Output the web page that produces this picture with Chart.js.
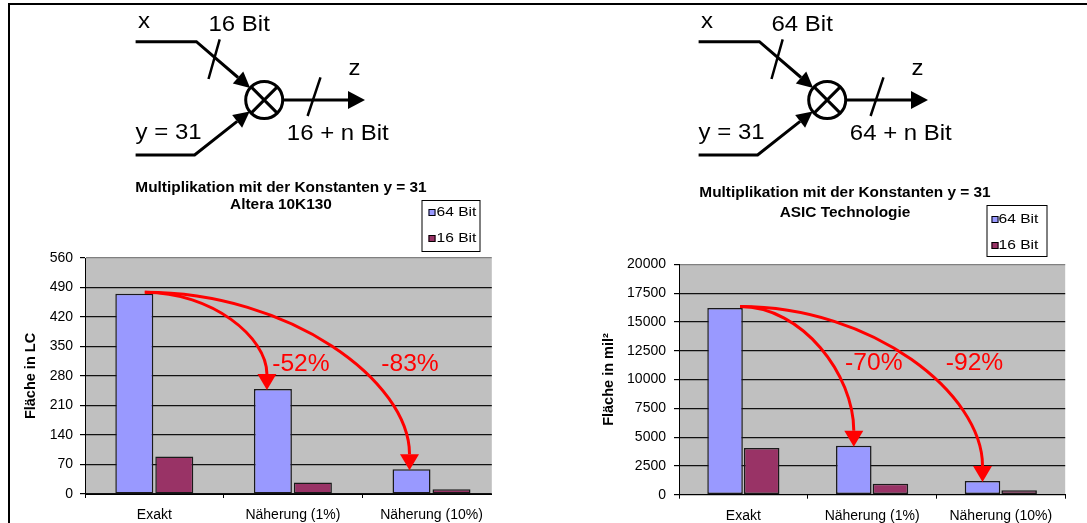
<!DOCTYPE html>
<html>
<head>
<meta charset="utf-8">
<script src="https://cdn.jsdelivr.net/npm/chart.js@4.4.1/dist/chart.umd.min.js"></script>
<style>
  html, body { margin: 0; padding: 0; background: #fff; }
  #page { position: relative; width: 1087px; height: 523px; overflow: hidden; }
  .panel { position: absolute; top: 0; height: 523px; }
  #left { left: 0; width: 545px; }
  #right { left: 545px; width: 542px; }
  #frame { position: absolute; left: 8px; top: 3px; width: 1079px; height: 520px;
           border-top: 2px solid #000; border-left: 2px solid #000; box-sizing: border-box; }
</style>
</head>
<body>
<div id="page">
  <div class="panel" id="left"><canvas id="cLeft" width="545" height="523"></canvas></div>
  <div class="panel" id="right"><canvas id="cRight" width="542" height="523"></canvas></div>
  <div id="frame"></div>
</div>
<script>
// ---- data ----
const categories = ['Exakt', 'Näherung (1%)', 'Näherung (10%)'];
const seriesNames = ['64 Bit', '16 Bit'];

const alteraBits64 = [475, 249, 59];
const alteraBits16 = [89, 27, 11];
const alteraTicks = [0, 70, 140, 210, 280, 350, 420, 490, 560];
const alteraSavings = ['-52%', '-83%'];
const alteraTitle = ['Multiplikation mit der Konstanten y = 31', 'Altera 10K130'];
const alteraAxisTitle = 'Fläche in LC';
const alteraWordWidths = ['16 Bit', '16 + n Bit'];

const asicBits64 = [16200, 4250, 1200];
const asicBits16 = [4050, 950, 380];
const asicTicks = [0, 2500, 5000, 7500, 10000, 12500, 15000, 17500, 20000];
const asicSavings = ['-70%', '-92%'];
const asicTitle = ['Multiplikation mit der Konstanten y = 31', 'ASIC Technologie'];
const asicAxisTitle = 'Fläche in mil²';
const asicWordWidths = ['64 Bit', '64 + n Bit'];

const diagramInputs = ['x', 'y = 31', 'z'];

// ---- drawing helpers ----
const FONT = "'Liberation Sans', Arial, sans-serif";
Chart.defaults.font.family = FONT;
Chart.defaults.color = '#000';

const COLOR_64 = '#9999FF';
const COLOR_16 = '#993366';

function wideText(ctx, text, x, y, sx, align) {
  ctx.save();
  ctx.translate(x, y);
  ctx.scale(sx, 1);
  ctx.textAlign = align;
  ctx.fillText(text, 0, 0);
  ctx.restore();
}

function arrowHead(ctx, from, tip, len, half) {
  const dx = tip.x - from.x, dy = tip.y - from.y, L = Math.hypot(dx, dy);
  const ux = dx / L, uy = dy / L;
  const bx = tip.x - ux * len, by = tip.y - uy * len;
  ctx.beginPath();
  ctx.moveTo(tip.x, tip.y);
  ctx.lineTo(bx - uy * half, by + ux * half);
  ctx.lineTo(bx + uy * half, by - ux * half);
  ctx.closePath();
  ctx.fill();
  return { x: bx, y: by };
}

// multiplier block: x and y enter the (x) node, z leaves it
function drawDiagram(ctx, ox, words) {
  ctx.save();
  ctx.translate(ox, 0);
  ctx.strokeStyle = '#000';
  ctx.fillStyle = '#000';
  ctx.lineWidth = 3;
  ctx.lineCap = 'butt';
  ctx.lineJoin = 'miter';

  const c = { x: 264.2, y: 100 }, r = 18.5;
  const onCircle = p => {
    const dx = c.x - p.x, dy = c.y - p.y, L = Math.hypot(dx, dy);
    return { x: c.x - dx / L * r, y: c.y - dy / L * r };
  };

  // x input
  const xBend = { x: 196.4, y: 41.7 };
  const xBase = arrowHead(ctx, xBend, onCircle(xBend), 16, 8);
  ctx.beginPath();
  ctx.moveTo(135.6, 41.7); ctx.lineTo(xBend.x, xBend.y); ctx.lineTo(xBase.x, xBase.y);
  ctx.stroke();

  // y input
  const yBend = { x: 194.6, y: 155 };
  const yBase = arrowHead(ctx, yBend, onCircle(yBend), 16, 8);
  ctx.beginPath();
  ctx.moveTo(135.6, 155); ctx.lineTo(yBend.x, yBend.y); ctx.lineTo(yBase.x, yBase.y);
  ctx.stroke();

  // node
  ctx.beginPath();
  ctx.arc(c.x, c.y, r, 0, Math.PI * 2);
  ctx.stroke();
  const d = r * Math.SQRT1_2;
  ctx.beginPath();
  ctx.moveTo(c.x - d, c.y - d); ctx.lineTo(c.x + d, c.y + d);
  ctx.moveTo(c.x + d, c.y - d); ctx.lineTo(c.x - d, c.y + d);
  ctx.stroke();

  // output
  const outStart = { x: c.x + r, y: c.y };
  const outBase = arrowHead(ctx, outStart, { x: 365, y: c.y }, 17, 9);
  ctx.beginPath();
  ctx.moveTo(outStart.x, outStart.y); ctx.lineTo(outBase.x, outBase.y);
  ctx.stroke();

  // bus width slashes
  ctx.lineWidth = 2.5;
  ctx.beginPath();
  ctx.moveTo(219.7, 39.3); ctx.lineTo(208.5, 79);
  ctx.moveTo(320.5, 77.3); ctx.lineTo(307.6, 116);
  ctx.stroke();

  // labels
  ctx.font = '22px ' + FONT;
  ctx.textBaseline = 'alphabetic';
  wideText(ctx, diagramInputs[0], 144, 28, 1.09, 'center');
  wideText(ctx, words[0], 208.5, 30.7, 1.09, 'left');
  wideText(ctx, diagramInputs[2], 354.5, 75, 1.09, 'center');
  wideText(ctx, diagramInputs[1], 135.6, 139.3, 1.09, 'left');
  wideText(ctx, words[1], 286.8, 140, 1.09, 'left');
  ctx.restore();
}

function drawSaving(ctx, from, to, layout) {
  const S = { x: from.x + layout.startDx, y: from.y - 1.5 };
  const tip = { x: to.x + layout.tipDx, y: to.y + 1 };
  const B = { x: tip.x, y: tip.y - 16 };
  ctx.beginPath();
  ctx.moveTo(S.x, S.y);
  ctx.bezierCurveTo(S.x + 0.55 * (B.x - S.x), S.y, B.x, B.y - 0.45 * (B.y - S.y), B.x, B.y);
  ctx.stroke();
  ctx.beginPath();
  ctx.moveTo(tip.x, tip.y);
  ctx.lineTo(B.x - 9.5, B.y);
  ctx.lineTo(B.x + 9.5, B.y);
  ctx.closePath();
  ctx.fill();
}

function makeChart(canvasId, cfg) {
  const L = cfg.layout;
  const panelPlugin = {
    id: 'panel_' + canvasId,
    beforeDraw(chart) {
      const { ctx, chartArea: a } = chart;
      ctx.save();
      ctx.fillStyle = '#C0C0C0';
      ctx.fillRect(a.left, a.top, a.right - a.left, a.bottom - a.top);
      ctx.restore();

      drawDiagram(ctx, L.diagramX, cfg.words);

      ctx.save();
      ctx.fillStyle = '#000';
      ctx.font = 'bold 14px ' + FONT;
      ctx.textBaseline = 'middle';
      cfg.title.forEach((line, i) => wideText(ctx, line, L.titleX, L.titleY[i], 1.1, 'center'));
      ctx.restore();
    },
    afterDatasetsDraw(chart) {
      const { ctx, chartArea: a } = chart;
      const bars = chart.getDatasetMeta(0).data;
      ctx.save();
      ctx.strokeStyle = '#FF0000';
      ctx.fillStyle = '#FF0000';
      ctx.lineWidth = 3;
      cfg.savings.forEach((txt, i) => {
        const target = bars[i + 1];
        drawSaving(ctx, bars[0], target, { startDx: L.startDx, tipDx: L.tipDx[i] });
      });
      ctx.font = '23px ' + FONT;
      ctx.textBaseline = 'middle';
      const ly = a.top + L.savingFrac * (a.bottom - a.top);
      cfg.savings.forEach((txt, i) => {
        wideText(ctx, txt, bars[i + 1].x + L.savingDx[i], ly, 1.07, 'center');
      });
      ctx.restore();
    },
    afterDraw(chart) {
      const { ctx } = chart;
      const g = L.legend;
      ctx.save();
      ctx.fillStyle = '#fff';
      ctx.fillRect(g.x, g.y, g.w, g.h);
      ctx.strokeStyle = '#000';
      ctx.lineWidth = 1;
      ctx.strokeRect(g.x + 0.5, g.y + 0.5, g.w, g.h);
      ctx.font = '13px ' + FONT;
      ctx.textBaseline = 'middle';
      chart.data.datasets.forEach((ds, i) => {
        const cy = g.y + g.rows[i];
        ctx.fillStyle = ds.backgroundColor;
        ctx.fillRect(g.x + g.swatch, Math.round(cy - 3.5), 7, 7);
        ctx.strokeStyle = '#000';
        ctx.strokeRect(g.x + g.swatch + 0.5, Math.round(cy - 3.5) + 0.5, 6, 6);
        ctx.fillStyle = '#000';
        wideText(ctx, ds.label, g.x + g.text, cy, 1.2, 'left');
      });
      ctx.restore();
    }
  };

  const barStyle = {
    borderColor: '#1a1a1a',
    borderWidth: 1.5,
    borderSkipped: false,
    categoryPercentage: L.catPct,
    barPercentage: L.barPct
  };

  return new Chart(document.getElementById(canvasId), {
    type: 'bar',
    data: {
      labels: categories,
      datasets: [
        Object.assign({ label: seriesNames[0], data: cfg.bits64, backgroundColor: COLOR_64 }, barStyle),
        Object.assign({ label: seriesNames[1], data: cfg.bits16, backgroundColor: COLOR_16 }, barStyle)
      ]
    },
    options: {
      responsive: false,
      maintainAspectRatio: false,
      devicePixelRatio: 1,
      animation: false,
      events: [],
      layout: { padding: { top: L.top, right: L.right, bottom: 0, left: 0 } },
      plugins: { legend: { display: false }, title: { display: false }, tooltip: { enabled: false } },
      scales: {
        x: {
          afterBuildTicks: axis => { axis._valueRange = L.categorySpan; },
          afterFit: axis => { axis.height = L.xHeight; },
          grid: { drawOnChartArea: false, drawTicks: true, tickLength: 4, color: '#000', offset: true },
          border: { color: '#000', width: 1 },
          ticks: { color: '#000', font: { size: 14 }, padding: L.xPad, maxRotation: 0, autoSkip: false }
        },
        y: {
          min: cfg.ticks[0],
          max: cfg.ticks[cfg.ticks.length - 1],
          afterBuildTicks: axis => { axis.ticks = cfg.ticks.map(v => ({ value: v })); },
          afterFit: axis => { axis.width = L.yWidth; },
          grid: {
            color: c => (c.tick && c.tick.value === cfg.ticks[cfg.ticks.length - 1]) ? '#808080' : '#111',
            tickColor: '#000',
            tickLength: 5,
            lineWidth: 1.2
          },
          border: { color: '#000', width: 1 },
          ticks: { color: '#000', font: { size: 14 }, padding: L.yPad, callback: v => String(v) },
          title: {
            display: true,
            text: cfg.axisTitle,
            color: '#000',
            font: { size: 14.5, weight: 'bold' },
            padding: { top: L.yTitlePad, bottom: 0 }
          }
        }
      }
    },
    plugins: [panelPlugin]
  });
}

makeChart('cLeft', {
  bits64: alteraBits64, bits16: alteraBits16, ticks: alteraTicks,
  savings: alteraSavings, title: alteraTitle, axisTitle: alteraAxisTitle, words: alteraWordWidths,
  layout: {
    top: 258, right: 53.2, xHeight: 29, yWidth: 85, yPad: 7, xPad: 8.6, yTitlePad: 22.6,
    categorySpan: 2.935, catPct: 0.577, barPct: 0.95,
    diagramX: 0, titleX: 281, titleY: [187.7, 204.7],
    legend: { x: 421.5, y: 200, w: 58, h: 51, rows: [12.5, 38.5], swatch: 7, text: 15 },
    startDx: 10.5, tipDx: [-6, -2], savingDx: [28, -1.5], savingFrac: 0.453
  }
});

makeChart('cRight', {
  bits64: asicBits64, bits16: asicBits16, ticks: asicTicks,
  savings: asicSavings, title: asicTitle, axisTitle: asicAxisTitle, words: asicWordWidths,
  layout: {
    top: 264.3, right: 21.8, xHeight: 28.3, yWidth: 134, yPad: 8, xPad: 8.9, yTitlePad: 55.3,
    categorySpan: 3, catPct: 0.569, barPct: 0.97,
    diagramX: 18, titleX: 300, titleY: [193.3, 213.3],
    legend: { x: 441.5, y: 205, w: 60, h: 51, rows: [14.3, 40.7], swatch: 5, text: 12 },
    startDx: 15, tipDx: [0, 0], savingDx: [20, -8], savingFrac: 0.433
  }
});
</script>
</body>
</html>
